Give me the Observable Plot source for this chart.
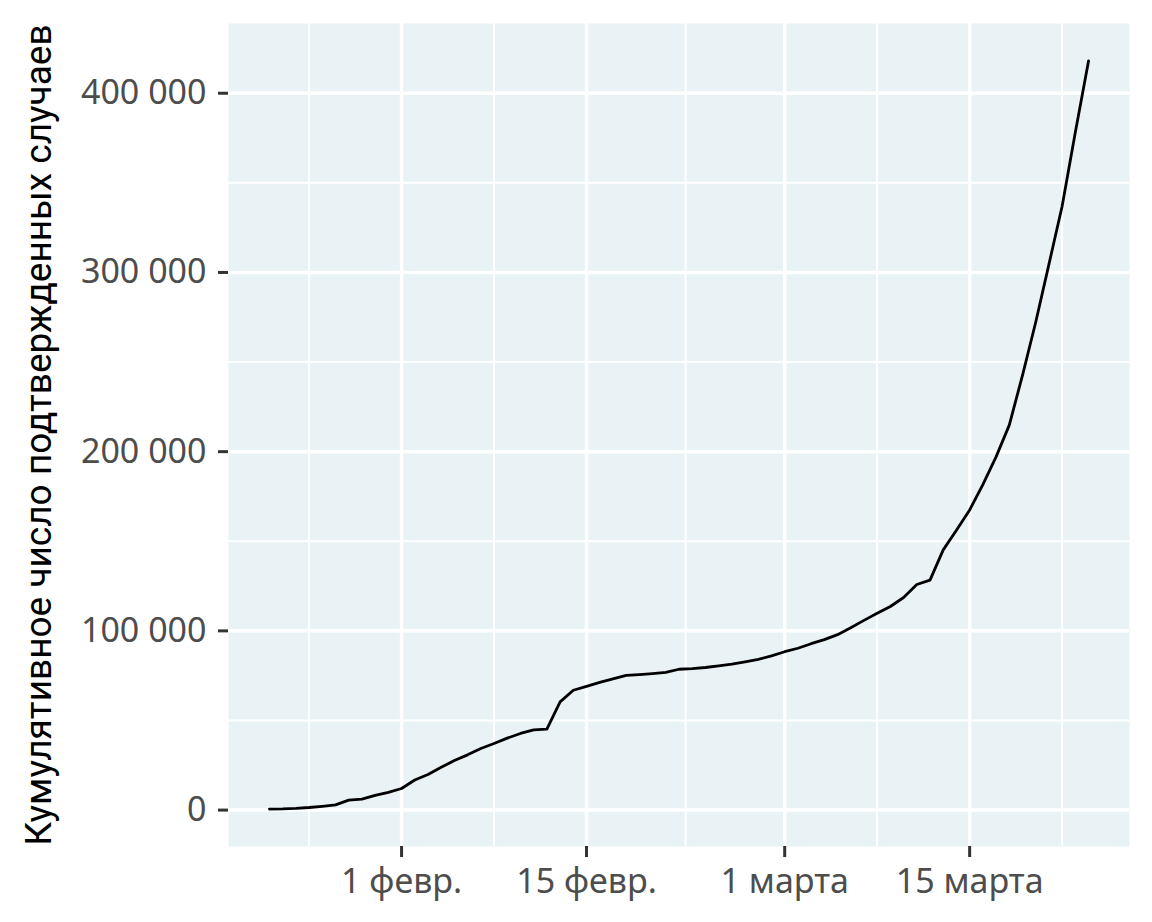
<!DOCTYPE html>
<html>
<head>
<meta charset="utf-8">
<script src="https://cdn.jsdelivr.net/npm/d3@7"></script>
<script src="https://cdn.jsdelivr.net/npm/@observablehq/plot@0.6"></script>
<style>
  html, body { margin: 0; padding: 0; background: #ffffff; }
  #chart { width: 1152px; height: 922px; }
</style>
</head>
<body>
<div id="chart"></div>
<script>
// Dates (daily, 22 Jan – 24 Mar 2020)
const startDate = "2020-01-22";
const cumulativeCases = [
  555, 654, 941, 1434, 2118, 2927, 5578, 6166, 8234, 9927,           // 22–31 Jan
  12038, 16787, 19881, 23892, 27635, 30817, 34391, 37120, 40150, 42762, // 1–10 Feb
  44802, 45221, 60368, 66885, 69030, 71224, 73258, 75136, 75639, 76197, // 11–20 Feb
  76823, 78579, 78965, 79568, 80413, 81395, 82754, 84120, 86011,       // 21–29 Feb
  88369, 90306, 92840, 95120, 97886, 101801, 105847, 109821, 113590, 118620, // 1–10 Mar
  125875, 128352, 145205, 156101, 167454, 181574, 197102, 214821, 242570, 272208, // 11–20 Mar
  304507, 336953, 378231, 418041                                      // 21–24 Mar
];

const xMajorTicks = ["2020-02-01", "2020-02-15", "2020-03-01", "2020-03-15"];
const xMajorLabels = ["1 февр.", "15 февр.", "1 марта", "15 марта"];
const xMinorTicks = ["2020-01-25", "2020-02-08", "2020-02-22T12:00", "2020-03-08", "2020-03-22"];

const yMajorTicks = [0, 100000, 200000, 300000, 400000];
const yMajorLabels = ["0", "100 000", "200 000", "300 000", "400 000"];
const yMinorTicks = [50000, 150000, 250000, 350000];

const yTitle = "Кумулятивное число подтвержденных случаев";

// Build table
const parse = s => new Date(s.length === 10 ? s + "T00:00:00Z" : s + ":00Z");
const t0 = parse(startDate);
const data = cumulativeCases.map((v, i) => ({date: new Date(t0.getTime() + i * 864e5), cases: v}));
const xMaj = xMajorTicks.map(parse);
const xMin = xMinorTicks.map(parse);

// ggplot-like 5% expansion
const [dMin, dMax] = d3.extent(data, d => d.date);
const dPad = (dMax - dMin) * 0.05;
const xDomain = [new Date(+dMin - dPad), new Date(+dMax + dPad)];
const [vMin, vMax] = d3.extent(data, d => d.cases);
const vPad = (vMax - vMin) * 0.05;
const yDomain = [vMin - vPad, vMax + vPad];

const xLabelMap = new Map(xMaj.map((d, i) => [+d, xMajorLabels[i]]));
const yLabelMap = new Map(yMajorTicks.map((d, i) => [d, yMajorLabels[i]]));

const chart = Plot.plot({
  width: 1152,
  height: 922,
  marginLeft: 228,
  marginRight: 23,
  marginTop: 23,
  marginBottom: 76,
  style: {fontFamily: "'Noto Sans', sans-serif", background: "#ffffff"},
  x: {type: "utc", domain: xDomain},
  y: {domain: yDomain},
  marks: [
    Plot.frame({fill: "#E9F2F5", stroke: null}),
    Plot.ruleY(yMinorTicks, {stroke: "#ffffff", strokeWidth: 2}),
    Plot.ruleX(xMin, {stroke: "#ffffff", strokeWidth: 2}),
    Plot.ruleY(yMajorTicks, {stroke: "#ffffff", strokeWidth: 3.5}),
    Plot.ruleX(xMaj, {stroke: "#ffffff", strokeWidth: 3.5}),
    Plot.line(data, {x: "date", y: "cases", stroke: "#000000", strokeWidth: 2.8, curve: "linear"}),
    Plot.axisX({
      ticks: xMaj,
      tickFormat: d => xLabelMap.get(+d),
      tickSize: 11,
      tickPadding: 11,
      fontSize: 34,
      stroke: "#333333",
      strokeWidth: 3,
      fill: "#4D4D4D",
      label: null
    }),
    Plot.axisY({
      ticks: yMajorTicks,
      tickFormat: d => yLabelMap.get(d),
      tickSize: 10,
      tickPadding: 12,
      fontSize: 34,
      stroke: "#333333",
      strokeWidth: 3,
      fill: "#4D4D4D",
      label: null
    }),
    Plot.text([yTitle], {
      frameAnchor: "left",
      textAnchor: "middle",
      rotate: -90,
      dx: -189,
      fontSize: 37,
      fill: "#000000",
      fontFamily: "Roboto, sans-serif",
      text: d => d
    })
  ]
});

document.getElementById("chart").appendChild(chart);
</script>
</body>
</html>
